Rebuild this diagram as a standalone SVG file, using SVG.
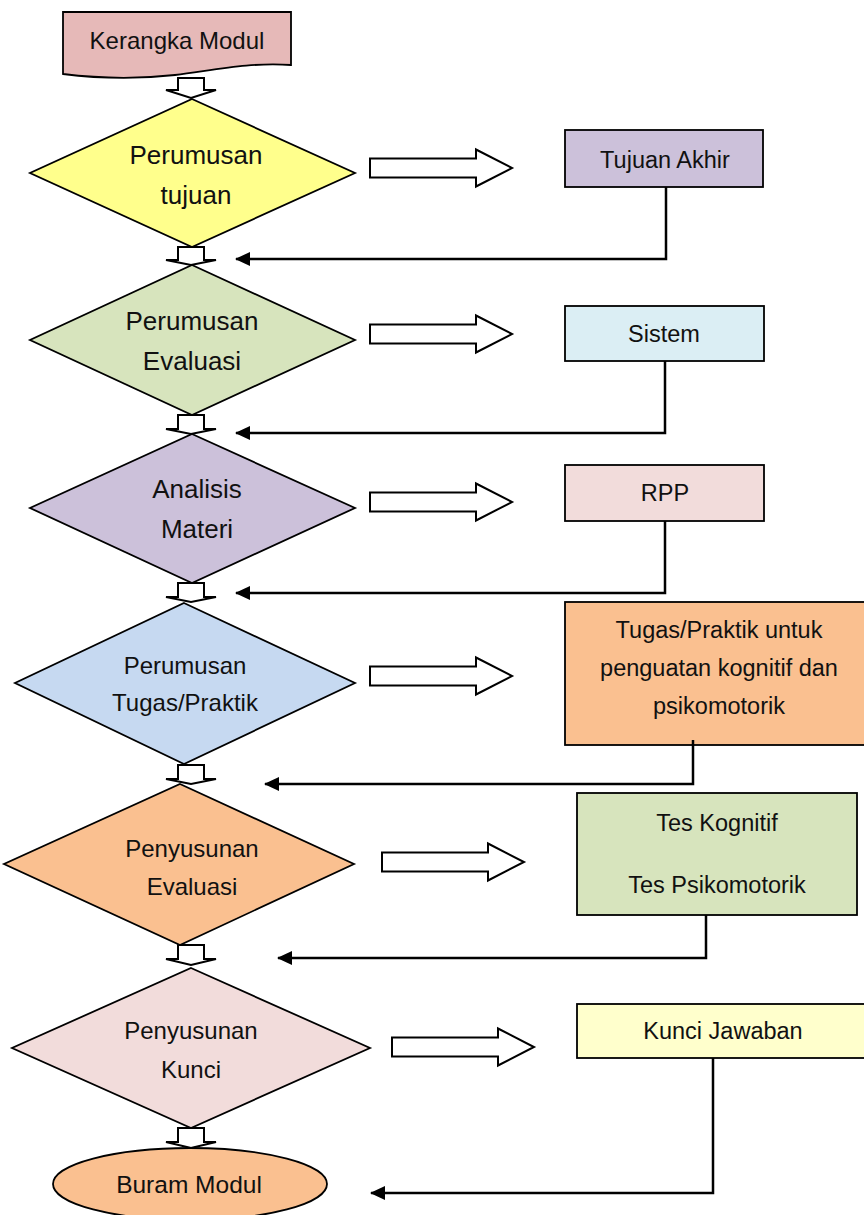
<svg xmlns="http://www.w3.org/2000/svg" width="864" height="1215" viewBox="0 0 864 1215">
<style>
.s{stroke:#000;stroke-width:1.8;}
.t{font-family:"Liberation Sans",Arial,sans-serif;fill:#111;text-anchor:middle;}
.big{font-size:26px;}
.mid{font-size:24px;}
.box{font-size:23.5px;}
.ba{fill:#fff;stroke:#000;stroke-width:2;}
.con{fill:none;stroke:#000;stroke-width:2.5;marker-end:url(#ah);}
</style>
<defs>
<marker id="ah" markerWidth="16" markerHeight="14" refX="14" refY="7" orient="auto" markerUnits="userSpaceOnUse">
<path d="M0,0 L15,7 L0,14 Z" fill="#000"/>
</marker>
</defs>
<rect width="864" height="1215" fill="#fff"/>

<g id="kerangka">
<path class="s" fill="#e6b9b8" d="M63,12 H291 V65 C250,62 215,70 175,75 C130,80 95,78 63,74 Z"/>
<text class="t" style="font-size:24px" x="177" y="49">Kerangka Modul</text>
</g>

<g id="d1">
<polygon class="s" fill="#ffff8c" points="192,99 355,173 192,247 30,173"/>
<text class="t big" x="196" y="164">Perumusan</text>
<text class="t big" x="196" y="204">tujuan</text>
</g>
<g id="d2">
<polygon class="s" fill="#d7e4bd" points="192,265 355,340 192,415 30,340"/>
<text class="t big" x="192" y="330">Perumusan</text>
<text class="t big" x="192" y="370">Evaluasi</text>
</g>
<g id="d3">
<polygon class="s" fill="#ccc1da" points="192,434 355,508 192,583 30,508"/>
<text class="t big" x="197" y="498">Analisis</text>
<text class="t big" x="197" y="538">Materi</text>
</g>
<g id="d4">
<polygon class="s" fill="#c6d9f1" points="184,603 355,683 184,764 15,683"/>
<text class="t mid" x="185" y="674">Perumusan</text>
<text class="t mid" x="185" y="711">Tugas/Praktik</text>
</g>
<g id="d5">
<polygon class="s" fill="#fac090" points="180,784 354,864 180,945 4,864"/>
<text class="t mid" x="192" y="857">Penyusunan</text>
<text class="t mid" x="192" y="895">Evaluasi</text>
</g>
<g id="d6">
<polygon class="s" fill="#f2dcdb" points="191,968 370,1048 191,1128 12,1048"/>
<text class="t mid" x="191" y="1039">Penyusunan</text>
<text class="t mid" x="191" y="1078">Kunci</text>
</g>
<g id="buram">
<ellipse class="s" fill="#fac090" cx="190" cy="1184" rx="137" ry="36"/>
<text class="t" style="font-size:24.5px" x="189" y="1193">Buram Modul</text>
</g>

<g id="tujuan-akhir">
<rect class="s" fill="#ccc1da" x="565" y="130" width="198" height="57"/>
<text class="t box" x="665" y="168">Tujuan Akhir</text>
</g>
<g id="sistem">
<rect class="s" fill="#dbeef4" x="565" y="306" width="199" height="55"/>
<text class="t box" x="664" y="342">Sistem</text>
</g>
<g id="rpp">
<rect class="s" fill="#f2dcdb" x="565" y="465" width="199" height="56"/>
<text class="t box" x="665" y="501">RPP</text>
</g>
<g id="tugas">
<rect class="s" fill="#fac090" x="565" y="602" width="310" height="143"/>
<text class="t box" x="719" y="638">Tugas/Praktik untuk</text>
<text class="t box" x="719" y="676">penguatan kognitif dan</text>
<text class="t box" x="719" y="714">psikomotorik</text>
</g>
<g id="tes">
<rect class="s" fill="#d7e4bd" x="577" y="793" width="280" height="122"/>
<text class="t box" x="717" y="831">Tes Kognitif</text>
<text class="t box" x="717" y="893">Tes Psikomotorik</text>
</g>
<g id="kunci-jawaban">
<rect class="s" fill="#ffffcc" x="577" y="1004" width="300" height="54"/>
<text class="t box" x="723" y="1039">Kunci Jawaban</text>
</g>

<g id="connectors">
<path class="ba" d="M178,78 H204 V90 H216 L191,98 L166,90 H178 Z"/>
<path class="ba" d="M178,247 H204 V260 H216 L191,265 L166,260 H178 Z"/>
<path class="ba" d="M178,415 H204 V429 H216 L191,434 L166,429 H178 Z"/>
<path class="ba" d="M178,583 H204 V597 H216 L191,602 L166,597 H178 Z"/>
<path class="ba" d="M178,765 H204 V779 H216 L191,784 L166,779 H178 Z"/>
<path class="ba" d="M178,945 H204 V959 H216 L191,965 L166,959 H178 Z"/>
<path class="ba" d="M178,1128 H204 V1142 H216 L191,1148 L166,1142 H178 Z"/>

<path class="ba" d="M370,158.5 H476 V149.5 L512,168 L476,186.5 V177.5 H370 Z"/>
<path class="ba" d="M370,324.5 H476 V315.5 L512,334 L476,352.5 V343.5 H370 Z"/>
<path class="ba" d="M370,492.5 H476 V483.5 L512,502 L476,520.5 V511.5 H370 Z"/>
<path class="ba" d="M370,666.5 H476 V657.5 L512,676 L476,694.5 V685.5 H370 Z"/>
<path class="ba" d="M382,852.5 H488 V843.5 L524,862 L488,880.5 V871.5 H382 Z"/>
<path class="ba" d="M392,1037.5 H498 V1028.5 L534,1047 L498,1065.5 V1056.5 H392 Z"/>

<path class="con" d="M666,187 V259 H236"/>
<path class="con" d="M665,361 V433 H236"/>
<path class="con" d="M665,521 V593 H236"/>
<path class="con" d="M693,740 V784 H265"/>
<path class="con" d="M706,915 V958 H278"/>
<path class="con" d="M713,1058 V1193 H371"/>
</g>
</svg>
